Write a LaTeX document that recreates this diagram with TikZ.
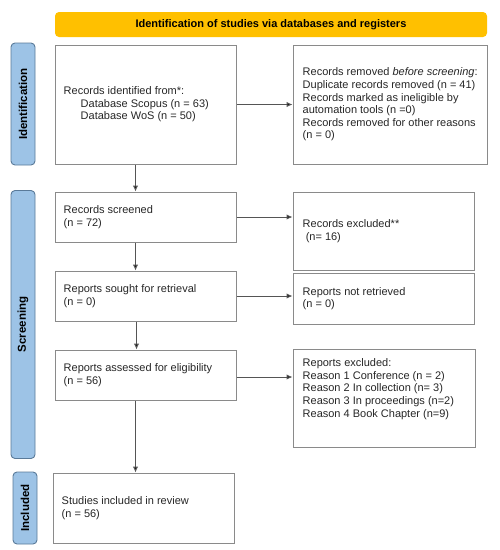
\documentclass[tikz,border=0pt]{standalone}
\usepackage{fontspec}
\setmainfont{Liberation Sans}
\usetikzlibrary{arrows.meta}
\definecolor{boxgray}{HTML}{8A8A8A}
\definecolor{bannery}{HTML}{FFC000}
\definecolor{sideblue}{HTML}{9DC3E6}
\definecolor{sideedge}{HTML}{5A7A99}
\definecolor{linegray}{HTML}{555555}
\definecolor{txtcol}{HTML}{262626}
\tikzset{
  box/.style={draw=boxgray, line width=1pt, inner sep=0pt},
  txt/.style={anchor=west, align=left, inner sep=0pt, text=txtcol, font=\fontsize{11}{12.6}\selectfont},
  side/.style={draw=sideedge, fill=sideblue, line width=0.9pt, rounded corners=4pt, inner sep=0pt},
  sidetxt/.style={rotate=90, font=\fontsize{11.5}{13}\selectfont\bfseries},
  arr/.style={draw=linegray, line width=1pt, -{Latex[length=6pt,width=5.5pt,fill=black]}}
}
\begin{document}
\begin{tikzpicture}[x=1pt,y=-1pt]
\useasboundingbox (0,0) rectangle (500,550);
% banner
\node[fill=bannery, rounded corners=4pt, minimum width=432pt, minimum height=25pt, inner sep=0pt,
  font=\fontsize{11}{12}\selectfont\bfseries] (banner) at (271,24.5) {Identification of studies via databases and registers};
% side labels
\node[side, minimum width=24pt, minimum height=122pt] (sidA) at (23,104) {};
\node[sidetxt] (sidAt) at (sidA.center) {Identification};
\node[side, minimum width=24pt, minimum height=268pt] (sidB) at (23,324.5) {};
\node[sidetxt] (sidBt) at (sidB.center) {Screening};
\node[side, minimum width=24pt, minimum height=72pt] (sidC) at (25,508) {};
\node[sidetxt] (sidCt) at (sidC.center) {Included};
% boxes
\node[box, minimum width=181pt, minimum height=119pt] (ident) at (145.5,104.5) {};
\node[txt] (identt) at ([xshift=9pt]ident.west) {Records identified from*:\\\hspace*{17pt}Database Scopus (n = 63)\\\hspace*{17pt}Database WoS (n = 50)};
\node[box, minimum width=194pt, minimum height=119pt] (remov) at (390,104.5) {};
\node[txt] (removt) at ([xshift=10pt]remov.west) {Records removed \textit{before screening}:\\Duplicate records removed (n = 41)\\Records marked as ineligible by\\automation tools (n =0)\\Records removed for other reasons\\(n = 0)};
\node[box, minimum width=181pt, minimum height=50pt] (scr) at (145.5,217) {};
\node[txt] (scrt) at ([xshift=9pt]scr.west) {Records screened\\(n = 72)};
\node[box, minimum width=181pt, minimum height=78pt] (exc) at (383.5,231) {};
\node[txt] (exct) at ([xshift=10pt]exc.west) {Records excluded**\\\ (n= 16)};
\node[box, minimum width=181pt, minimum height=50pt] (sought) at (145.5,296) {};
\node[txt] (soughtt) at ([xshift=9pt]sought.west) {Reports sought for retrieval\\(n = 0)};
\node[box, minimum width=181pt, minimum height=51pt] (notret) at (383.5,298.5) {};
\node[txt] (notrett) at ([xshift=10pt]notret.west) {Reports not retrieved\\(n = 0)};
\node[box, minimum width=181pt, minimum height=50pt] (assess) at (145.5,375) {};
\node[txt] (assesst) at ([xshift=9pt]assess.west) {Reports assessed for eligibility\\(n = 56)};
\node[box, minimum width=182pt, minimum height=98pt] (rexc) at (384,398) {};
\node[txt, anchor=north west] (rexct) at ([xshift=10pt,yshift=-10pt]rexc.north west) {Reports excluded:\\Reason 1 Conference (n = 2)\\Reason 2 In collection (n= 3)\\Reason 3 In proceedings (n=2)\\Reason 4 Book Chapter (n=9)};
\node[box, minimum width=181pt, minimum height=70pt] (incl) at (143.5,508) {};
\node[txt] (inclt) at ([xshift=9pt]incl.west) {Studies included in review\\(n = 56)};
% arrows
\draw[arr] (ident.east) -- (remov.west);
\draw[arr] (scr.east) -- (scr.east -| exc.west);
\draw[arr] (sought.east) -- (sought.east -| notret.west);
\draw[arr] ([yshift=-2pt]assess.east) -- ([yshift=-2pt]assess.east -| rexc.west);
\draw[arr] ([xshift=-10pt]ident.south) -- ([xshift=-10pt]ident.south |- scr.north);
\draw[arr] ([xshift=-10pt]scr.south) -- ([xshift=-10pt]scr.south |- sought.north);
\draw[arr] ([xshift=-9pt]sought.south) -- ([xshift=-9pt]sought.south |- assess.north);
\draw[arr] ([xshift=-10pt]assess.south) -- ([xshift=-10pt]assess.south |- incl.north);
\end{tikzpicture}
\end{document}
